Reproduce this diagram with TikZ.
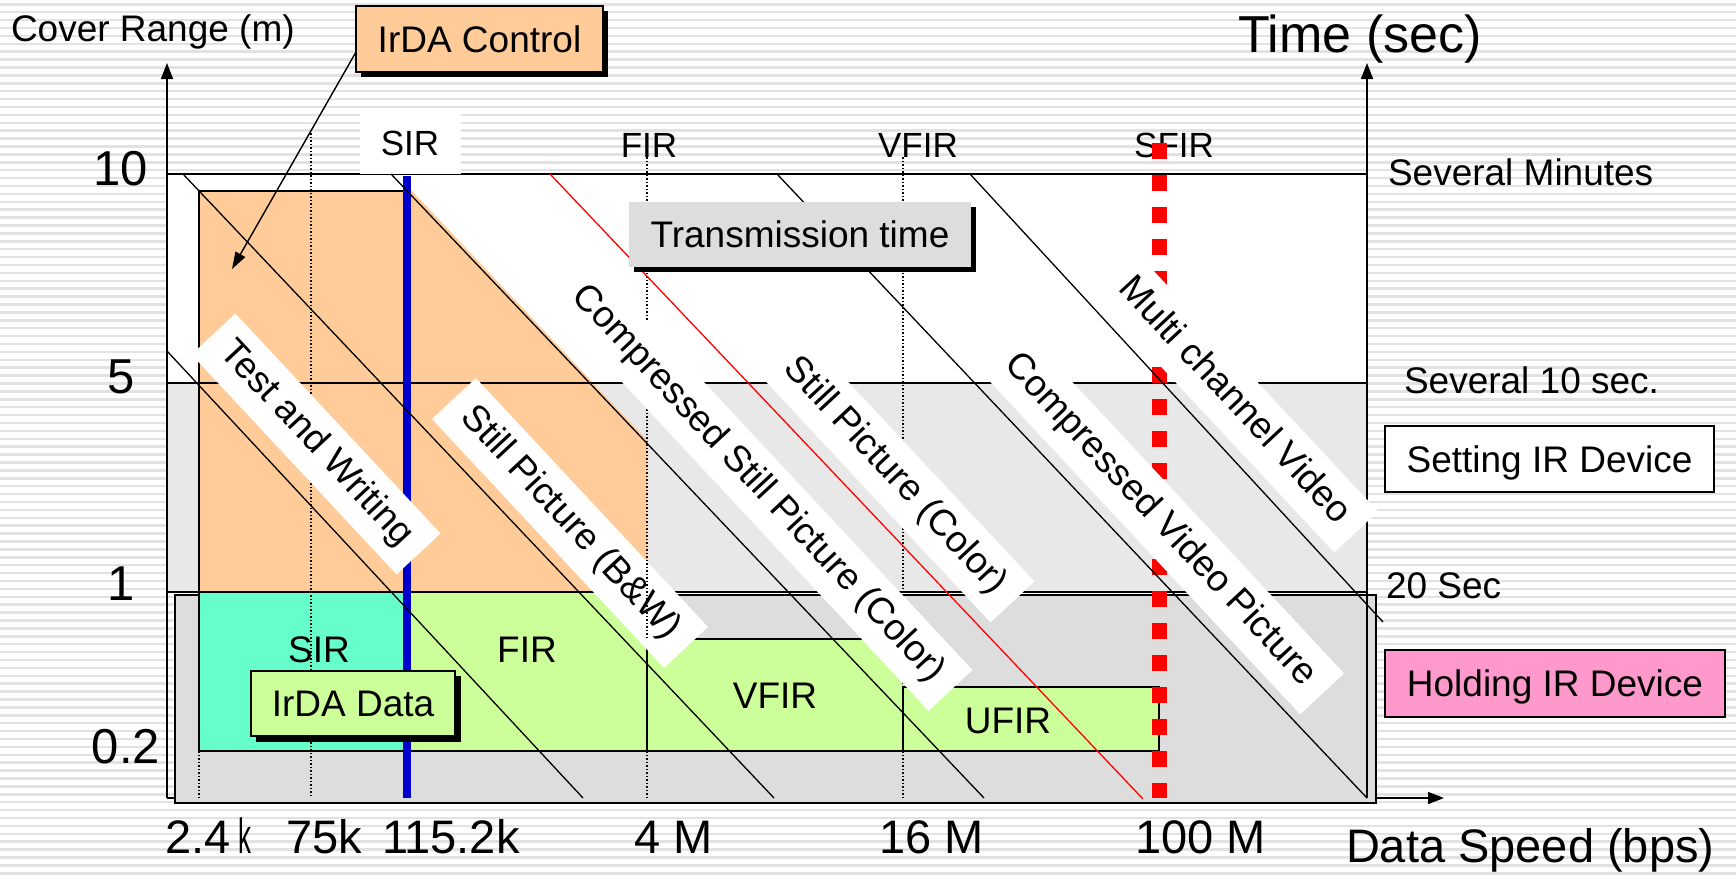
\documentclass[tikz,border=0pt]{standalone}
\usepackage{fontspec}
\setmainfont{Liberation Sans}
\usetikzlibrary{arrows.meta}
\definecolor{orangef}{RGB}{255,204,153}
\definecolor{cyanf}{RGB}{102,255,204}
\definecolor{greenf}{RGB}{204,255,153}
\definecolor{pinkf}{RGB}{255,153,204}
\definecolor{grayf}{RGB}{221,221,221}
\definecolor{lgrayf}{RGB}{232,232,232}
\definecolor{stripec}{RGB}{226,226,226}
\definecolor{bluel}{RGB}{0,0,204}
\begin{document}
\begin{tikzpicture}[x=1pt,y=-1pt,
  every node/.style={inner sep=0pt, outer sep=0pt},
  f37/.style={font=\fontsize{37}{44}\selectfont},
  f35/.style={font=\fontsize{35}{42}\selectfont},
  f47/.style={font=\fontsize{47}{56}\selectfont},
  f49/.style={font=\fontsize{49}{58}\selectfont},
  f52/.style={font=\fontsize{52}{62}\selectfont},
  thinl/.style={line width=1.6pt},
  diagl/.style={line width=1.3pt},
  dotl/.style={line width=1.3pt, dash pattern=on 1.5pt off 2pt},
  diagbox/.style={f37, fill=white, rotate=-47, inner xsep=18pt, inner ysep=12.5pt, text height=27pt, text depth=8pt},
  tagbox/.style={f37, draw=black, line width=1.8pt, text height=26.5pt, text depth=0pt},
  axisarrow/.style={line width=1.6pt, -{Triangle[length=16pt,width=12pt]}},
]
\useasboundingbox (0,0) rectangle (1736,876);
% background with stripes
\fill[white] (0,0) rectangle (1736,876);
\foreach \i in {0,...,110} {\fill[stripec] (0,{7.9*\i+3}) rectangle (1736,{7.9*\i+5.5});}
% chart regions
\fill[white] (167,174) rectangle (1367,383);
\fill[lgrayf] (167,383) rectangle (1367,592);
% axes (left, bottom)
\draw[axisarrow] (167,798) -- (167,63);
\draw[axisarrow] (167,798) -- (1444,798);
% gray holding box
\filldraw[fill=grayf, draw=black, line width=1.2pt] (175,595) rectangle (1376,803);
% right axis
\draw[axisarrow] (1367,798) -- (1367,63);
% orange region
\fill[orangef] (199,191) -- (412,191) -- (647,440) -- (647,592) -- (199,592) -- cycle;
% cyan / green regions
\fill[cyanf] (199,592) rectangle (407,751);
\fill[greenf] (407,592) -- (647,592) -- (647,639) -- (903,639) -- (903,687) -- (1159,687) -- (1159,751) -- (407,751) -- cycle;
\draw[thinl] (199,751) -- (199,191) -- (407,191);
\draw[thinl] (647,751) -- (647,639) -- (903,639);
\draw[thinl] (903,751) -- (903,687) -- (1159,687) -- (1159,751);
\draw[thinl] (199,751) -- (1159,751);
% horizontal level lines
\draw[thinl] (167,174) -- (1367,174);
\draw[thinl] (167,383) -- (1367,383);
\draw[thinl] (167,592) -- (1367,592);
% label under dotted lines
\node[diagbox] (lbw) at (570,523) {Still Picture (B\&W)};
% dotted verticals
\draw[dotl] (199,751) -- (199,798);
\draw[dotl] (311,133) -- (311,798);
\draw[dotl] (647,157) -- (647,639);
\draw[dotl] (647,751) -- (647,798);
\draw[dotl] (903,157) -- (903,687);
\draw[dotl] (903,751) -- (903,798);
% blue SIR line
\draw[bluel, line width=8pt] (407,176) -- (407,798);
% top labels
\node[f35, fill=white, minimum width=101pt, minimum height=63pt, text height=25pt, text depth=0pt] (tsir) at (410,142.5) {SIR};
\node[f35, anchor=base] (tfir) at (649,157) {FIR};
\node[f35, anchor=base] (tvfir) at (918,157) {VFIR};
\node[f35, anchor=base] (tsfir) at (1174,157) {SFIR};
% red dashed SFIR line
\draw[red, line width=15pt, dash pattern=on 16pt off 16pt] (1159,143) -- (1159,798);
% diagonal labels
\node[diagbox] (ltw) at (316,444) {Test and Writing};
\node[diagbox] (lcsp) at (758,484) {Compressed Still Picture (Color)};
\node[diagbox] (lspc) at (895,476) {Still Picture (Color)};
\node[diagbox] (lcvp) at (1160,520) {Compressed Video Picture};
\node[diagbox] (lmcv) at (1234,401) {Multi channel Video};
% diagonal transmission-time lines
\draw[diagl] (167,351) -- (583,798);
\draw[diagl] (183,174) -- (774,798);
\draw[diagl] (391,174) -- (984,798);
\draw[red, diagl] (550,174) -- (1143,799);
\draw[diagl] (777,174) -- (1367,798);
\draw[diagl] (970,174) -- (1383,622);
% region texts
\node[f37, anchor=base] (rsir) at (319,662) {SIR};
\node[f37, anchor=base] (rfir) at (527,662) {FIR};
\node[f37, anchor=base] (rvfir) at (775,708) {VFIR};
\node[f37, anchor=base] (rufir) at (1008,733) {UFIR};
% boxes with shadows
\fill (634,207) rectangle (976,272);
\node[f37, fill=grayf, minimum width=342pt, minimum height=65pt, text height=26.5pt, text depth=0pt] (ttime) at (800,234.5) {Transmission time};
\fill (256,676) rectangle (461,742);
\node[tagbox, fill=greenf, minimum width=204pt, minimum height=65pt] (irdata) at (353,703.5) {IrDA Data};
\fill (361,11) rectangle (608,77);
\node[tagbox, fill=orangef, minimum width=247pt, minimum height=66pt] (irctrl) at (479.5,39) {IrDA Control};
\coordinate (ctrltip) at (232,269);
\draw[line width=1.4pt, -{Triangle[length=17pt,width=11pt]}] ([yshift=-13pt]irctrl.west) -- (ctrltip);
% right side
\node[tagbox, fill=white, minimum width=329pt, minimum height=66pt] (setdev) at (1549.5,459) {Setting IR Device};
\node[tagbox, fill=pinkf, minimum width=340pt, minimum height=67pt] (holddev) at (1555,683.5) {Holding IR Device};
\node[f37, anchor=base west] (sevmin) at (1388,185) {Several Minutes};
\node[f37, anchor=base west] (sev10) at (1404,393) {Several 10 sec.};
\node[f37, anchor=base west] (twenty) at (1386,598) {20 Sec};
\node[f52, anchor=base west] (timelab) at (1238,52) {Time (sec)};
\node[f37, anchor=base west] (coverlab) at (11,41) {Cover Range (m)};
\node[f47, anchor=base west] (datalab) at (1346,862) {Data Speed (bps)};
% y tick labels
\node[f49, anchor=base] (y10) at (121,185) {10};
\node[f49, anchor=base] (y5) at (121,393) {5};
\node[f49, anchor=base] (y1) at (121,600) {1};
\node[f49, anchor=base] (y02) at (126,763) {0.2};
% x tick labels
\node[f47, anchor=base west] (x24) at (165,853) {2.4};
\node[f47, anchor=base west] (x24k) at (238,853) {\scalebox{0.55}[1.05]{k}};
\node[f47, anchor=base west] (x75) at (286,853) {75k};
\node[f47, anchor=base west] (x115) at (382,853) {115.2k};
\node[f47, anchor=base west] (x4) at (634,853) {4 M};
\node[f47, anchor=base west] (x16) at (879,853) {16 M};
\node[f47, anchor=base west] (x100) at (1135,853) {100 M};
\end{tikzpicture}
\end{document}
